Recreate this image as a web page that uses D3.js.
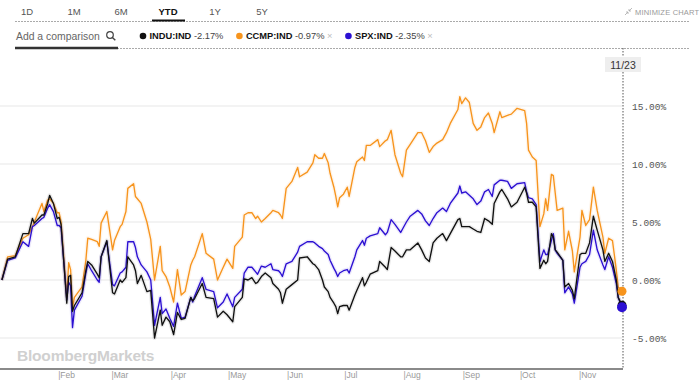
<!DOCTYPE html>
<html>
<head>
<meta charset="utf-8">
<script src="https://cdn.jsdelivr.net/npm/d3@7"></script>
<style>
  body { margin: 0; background: #fff; }
  svg { display: block; font-family: "Liberation Sans", Arial, sans-serif; }
</style>
</head>
<body>
<svg id="chart" width="700" height="390"></svg>
<script>
(function () {

    // YTD 2018, % change since start of year
    const dates = [
        "01-02","01-05","01-09","01-13","01-16","01-18","01-19","01-23","01-24","01-26","01-27","01-29","01-31",
        "02-01","02-02","02-05","02-06","02-07","02-08","02-09","02-13","02-15","02-16","02-18","02-21","02-22","02-23","02-26",
        "03-01","03-02","03-05","03-06","03-08","03-09","03-12","03-13","03-14","03-16","03-19","03-21","03-23","03-26","03-27","03-29","03-31",
        "04-02","04-04","04-06","04-08","04-11","04-12","04-13","04-17","04-19","04-23","04-25","04-28","04-30",
        "05-03","05-04","05-08","05-09","05-11","05-13","05-15","05-16","05-18","05-20","05-23","05-24","05-27","05-28","05-29","05-31",
        "06-03","06-06","06-07","06-11","06-14","06-15","06-17","06-19","06-20","06-22","06-23","06-25","06-26","06-27","06-28","06-30",
        "07-02","07-03","07-06","07-07","07-10","07-11","07-12","07-14","07-18","07-19","07-22","07-23","07-25","07-27","07-30","07-31",
        "08-02","08-04","08-08","08-10","08-12","08-14","08-16","08-18","08-21","08-23","08-25","08-29","08-30","08-31",
        "09-02","09-04","09-06","09-08","09-10","09-12","09-14","09-16","09-17","09-20","09-21","09-24","09-26","09-29",
        "10-03","10-04","10-05","10-07","10-09","10-11","10-13","10-14","10-15","10-17","10-18","10-19","10-20","10-23","10-24","10-26","10-28","10-29",
        "11-01","11-02","11-04","11-06","11-08","11-10","11-13","11-14","11-16","11-18","11-20","11-21","11-23"
    ];

    const indu = [
        0, 1.8, 2.0, 4.0, 4.0, 5.3, 4.9, 5.6, 5.6, 6.6, 7.3, 6.6, 5.3,
        5.4, 4.8, -2.0, 0.3, 0.4, -2.7, -2.2, -1.1, 0.8, 1.6, 1.3, 0.5, 0.2, 2.0, 3.4,
        -1.1, -1.2, 0.0, -0.2, 0.2, 2.0, 1.3, 0.8, -0.3, 0.4, -1.0, -0.9, -5.0, -2.6, -3.9, -3.2, -3.6,
        -4.7, -2.8, -3.4, -3.3, -1.5, -1.8, -1.6, -0.3, -1.5, -1.6, -3.2, -2.7, -3.0,
        -3.6, -2.3, -1.5, 0.1, 0.0, 0.2, -0.3, -0.2, 0.3, 0.6, 0.2, -0.3, -0.8, -1.1, -2.0, -0.8,
        -0.4, 0.0, 1.9, 2.0, 1.4, 1.3, 0.9, 0.0, -0.6, -1.0, -1.5, -2.0, -2.3, -2.9, -2.3, -2.2,
        -2.2, -2.6, -1.3, -0.9, 0.2, -0.5, -0.2, 0.5, 0.8, 1.6, 1.1, 0.9, 2.8, 2.5, 2.0, 2.0,
        2.6, 2.6, 3.2, 2.6, 1.9, 1.6, 3.2, 3.6, 4.0, 3.4, 4.0, 5.2, 5.3, 4.6,
        4.6, 4.6, 4.4, 4.2, 4.1, 5.3, 5.1, 4.8, 6.6, 7.6, 7.8, 7.0, 6.3, 6.7,
        8.0, 7.5, 6.7, 6.7, 6.3, 1.0, 1.7, 1.4, 1.6, 4.0, 3.7, 2.6, 2.4, 1.7, -0.6, -0.3, -0.9, -1.6,
        2.2, 2.3, 2.3, 3.2, 5.5, 4.3, 2.6, 1.6, 2.3, 1.6, 0.0, -1.5, -2.17
    ];

    const ccmp = [
        0, 2.0, 2.1, 3.6, 3.9, 4.6, 5.0, 6.6, 5.9, 6.9, 7.0, 6.6, 5.8,
        5.8, 5.0, -1.4, 1.5, 0.9, -2.4, -1.5, -0.6, 1.7, 3.6, 3.5, 3.3, 2.9, 4.9, 5.9,
        2.6, 3.4, 4.6, 4.8, 5.9, 7.9, 8.3, 7.2, 7.0, 6.6, 5.0, 3.5, 0.0, 2.9, 0.8, 0.3, -0.6,
        -1.9, 0.9, -1.3, -1.0, 1.3, 1.7, 2.0, 4.0, 2.3, 1.8, 0.0, 1.1, 1.8,
        1.0, 2.9, 3.7, 5.6, 5.8, 5.8, 5.3, 5.5, 5.0, 5.3, 5.8, 6.0, 5.8, 5.6, 5.3, 7.9,
        8.5, 9.7, 8.9, 9.3, 10.1, 10.8, 10.5, 10.5, 10.9, 10.1, 9.2, 8.0, 7.2, 6.3, 7.1, 7.4,
        8.0, 7.2, 9.7, 10.2, 10.6, 10.3, 11.6, 11.6, 12.1, 11.5, 12.0, 12.1, 12.9, 10.8, 9.2, 8.9,
        11.2, 11.7, 12.7, 12.7, 12.0, 11.0, 11.5, 11.8, 12.1, 12.7, 13.5, 14.7, 15.8, 15.2,
        15.7, 15.3, 13.5, 12.9, 13.2, 14.0, 14.4, 13.5, 12.7, 14.5, 14.0, 14.2, 14.3, 14.8,
        14.6, 13.5, 11.2, 10.6, 10.3, 4.6, 5.7, 7.0, 6.0, 9.1, 9.0, 7.5, 6.0, 6.2, 2.6, 4.2, 2.5, 0.7,
        3.7, 6.0, 4.7, 5.2, 8.0, 6.0, 3.7, 2.3, 3.6, 3.4, 0.9, -0.6, -0.97
    ];

    const spx = [
        0, 1.7, 1.9, 3.3, 2.9, 4.6, 4.7, 5.3, 5.4, 6.2, 6.5, 5.9, 4.7,
        4.7, 4.5, -1.7, -0.2, -0.5, -4.1, -2.6, -1.4, 0.6, 1.4, 0.8, 0.0, -0.2, 2.0, 3.3,
        -0.4, -0.5, 0.6, 0.7, 1.1, 3.3, 3.3, 2.8, 2.0, 1.3, 0.7, 0.0, -3.9, -1.5, -2.9, -2.5, -3.3,
        -4.0, -2.0, -3.3, -3.2, -1.5, -1.9, -1.4, 0.2, -0.8, -1.0, -2.4, -1.9, -1.2,
        -2.3, -1.5, -0.8, 0.6, 1.1, 1.1, 0.7, 0.5, 1.2, 1.1, 1.4, 0.9, 0.8, 0.6, 0.3, 1.4,
        1.6, 2.4, 2.9, 3.3, 3.3, 3.2, 2.9, 2.7, 2.5, 2.2, 1.7, 1.0, 0.7, 0.3, 0.6, 0.8,
        0.9, 0.6, 2.0, 2.6, 3.4, 3.0, 3.6, 3.8, 4.0, 4.5, 3.9, 4.1, 5.2, 4.8, 4.1, 4.4,
        5.0, 5.5, 6.0, 5.7, 5.1, 4.7, 5.3, 5.8, 6.2, 5.9, 6.6, 7.5, 8.1, 7.5,
        7.6, 7.3, 7.0, 6.5, 6.8, 7.6, 7.8, 7.2, 8.2, 8.6, 8.6, 8.5, 7.9, 8.3,
        8.4, 7.6, 7.1, 7.0, 6.5, 1.6, 2.6, 2.2, 2.2, 3.4, 4.0, 2.6, 2.3, 1.7, -1.1, -0.6, -1.2, -2.0,
        1.1, 1.4, 1.6, 2.2, 4.3, 2.6, 1.3, 0.9, 2.0, 1.1, -0.3, -1.5, -2.35
    ];

    const yTicks = [-5, 0, 5, 10, 15];
    const months = ["Feb", "Mar", "Apr", "May", "Jun", "Jul", "Aug", "Sep", "Oct", "Nov"];
    const ranges = ["1D", "1M", "6M", "YTD", "1Y", "5Y"];
    const seriesNames = ["INDU:IND", "CCMP:IND", "SPX:IND"];
    const seriesChanges = ["-2.17%", "-0.97%", "-2.35%"];
    const seriesColors = ["#111111", "#f7941d", "#2c10d2"];
    const lastLabel = "11/23";

    const svg = d3.select('#chart');
    const parse = d3.timeParse("%Y-%m-%d");
    const days = dates.map(d => parse("2018-" + d));
    const series = [indu, ccmp, spx];

    const x = d3.scaleTime()
        .domain([parse("2018-01-01"), parse("2018-11-23")])
        .range([0, 622]);
    const y = d3.scaleLinear()
        .domain([-5, 15])
        .range([338, 106]);
    const xEnd = x.range()[1];

    // --- top controls ---
    const nav = d3.scalePoint().domain(ranges).range([27, 262]);
    svg.selectAll('text.range')
        .data(ranges)
        .enter()
        .append('text')
        .attr('class', 'range')
        .attr('x', d => nav(d))
        .attr('y', 15)
        .attr('text-anchor', 'middle')
        .attr('font-size', 9.5)
        .attr('font-weight', d => d === "YTD" ? 'bold' : 'normal')
        .attr('fill', d => d === "YTD" ? '#111' : '#555')
        .text(d => d);

    svg.append('line')
        .attr('x1', 15).attr('x2', 690).attr('y1', 21.5).attr('y2', 21.5)
        .attr('stroke', '#aaa').attr('stroke-dasharray', '2,1');
    svg.append('line')
        .attr('x1', nav("YTD") - 16).attr('x2', nav("YTD") + 17).attr('y1', 20.5).attr('y2', 20.5)
        .attr('stroke', '#111').attr('stroke-width', 2);

    // minimize chart
    const mini = svg.append('g').attr('transform', 'translate(625,12)');
    mini.append('path').attr('d', 'M0,3 L3,0 M1,0 L3,0 L3,2 M7,-4 L4,-1 M4,-3 L4,-1 L6,-1')
        .attr('stroke', '#aaa').attr('fill', 'none').attr('stroke-width', 0.8);
    mini.append('text').attr('x', 10).attr('y', 3)
        .attr('font-size', 7.5).attr('fill', '#999').attr('letter-spacing', 0.2)
        .text('MINIMIZE CHART');

    // comparison box
    svg.append('text').attr('x', 16).attr('y', 40)
        .attr('font-size', 10.4).attr('fill', '#666')
        .text('Add a comparison');
    const mag = svg.append('g').attr('transform', 'translate(110,35)');
    mag.append('circle').attr('r', 3.3).attr('fill', 'none').attr('stroke', '#444').attr('stroke-width', 1.2);
    mag.append('line').attr('x1', 2.4).attr('y1', 2.4).attr('x2', 5.3).attr('y2', 5.3)
        .attr('stroke', '#444').attr('stroke-width', 1.4);
    svg.append('line')
        .attr('x1', 15).attr('x2', 690).attr('y1', 48.5).attr('y2', 48.5)
        .attr('stroke', '#aaa').attr('stroke-dasharray', '2,1');
    svg.append('line')
        .attr('x1', 15).attr('x2', 118).attr('y1', 48).attr('y2', 48)
        .attr('stroke', '#333').attr('stroke-width', 2.5);

    // legend
    let lx = 143;
    seriesNames.forEach((name, i) => {
        const g = svg.append('g').attr('transform', `translate(${lx},36)`);
        g.append('circle').attr('r', 3.3).attr('fill', seriesColors[i]);
        const t = g.append('text').attr('x', 6.5).attr('y', 3.4).attr('font-size', 9.3);
        t.append('tspan').attr('font-weight', 'bold').attr('fill', '#111').text(name);
        t.append('tspan').attr('fill', '#444').text(' ' + seriesChanges[i]);
        if (i > 0) t.append('tspan').attr('fill', '#bbb').text(' \u00d7');
        lx += 6.5 + t.node().getComputedTextLength() + 16;
    });

    // --- grid and y labels ---
    svg.selectAll('line.grid')
        .data(yTicks)
        .enter()
        .append('line')
        .attr('class', 'grid')
        .attr('x1', 0).attr('x2', xEnd)
        .attr('y1', d => y(d)).attr('y2', d => y(d))
        .attr('stroke', '#e8e8e8').attr('stroke-width', 1.2);

    const yAxis = svg.append('g')
        .attr('transform', `translate(${xEnd + 7},0)`)
        .call(d3.axisRight(y).tickValues(yTicks).tickSize(0).tickFormat(d => d.toFixed(2) + '%'));
    yAxis.select('.domain').remove();
    yAxis.selectAll('text')
        .attr('font-family', '"Liberation Mono", "DejaVu Sans Mono", monospace')
        .attr('font-size', 9.5)
        .attr('fill', '#555');

    // dotted cursor line and date box
    svg.append('line')
        .attr('x1', xEnd + 1).attr('x2', xEnd + 1).attr('y1', 48).attr('y2', 369)
        .attr('stroke', '#555').attr('stroke-dasharray', '1.5,1.5');
    svg.append('rect')
        .attr('x', xEnd - 17).attr('y', 57).attr('width', 36).attr('height', 15)
        .attr('fill', '#eeeeee');
    svg.append('text')
        .attr('x', xEnd + 1).attr('y', 68.5)
        .attr('text-anchor', 'middle')
        .attr('font-size', 10.5).attr('fill', '#333')
        .text(lastLabel);

    // watermark
    svg.append('text')
        .attr('x', 17).attr('y', 361)
        .attr('font-size', 15.5).attr('font-weight', 'bold').attr('fill', '#d0d0d0')
        .attr('letter-spacing', -0.2)
        .text('BloombergMarkets');

    // --- bottom axis ---
    svg.append('line')
        .attr('x1', 0).attr('x2', xEnd + 1).attr('y1', 369).attr('y2', 369)
        .attr('stroke', '#8a8a8a').attr('stroke-width', 2);

    const monthStarts = months.map((m, i) => parse(`2018-${String(i + 2).padStart(2, '0')}-01`));
    svg.selectAll('text.month')
        .data(monthStarts)
        .enter()
        .append('text')
        .attr('class', 'month')
        .attr('x', d => x(d) - 1)
        .attr('y', 378)
        .attr('font-size', 8.5)
        .attr('fill', '#999')
        .text((d, i) => '|' + months[i]);

    // --- lines ---
    const line = d3.line()
        .x((d, i) => x(days[i]))
        .y(d => y(d));

    const order = [1, 2, 0]; // orange, blue, black on top
    order.forEach(i => {
        svg.append('path')
            .datum(series[i])
            .attr('fill', 'none')
            .attr('stroke', seriesColors[i])
            .attr('stroke-opacity', 0.09)
            .attr('stroke-width', 4)
            .attr('stroke-linejoin', 'round')
            .attr('d', line);
        svg.append('path')
            .datum(series[i])
            .attr('fill', 'none')
            .attr('stroke', seriesColors[i])
            .attr('stroke-width', 1.35)
            .attr('stroke-linejoin', 'round')
            .attr('d', line);
    });

    // end markers
    [1, 0, 2].forEach(i => {
        const v = series[i][series[i].length - 1];
        svg.append('circle')
            .attr('cx', x(days[days.length - 1]))
            .attr('cy', y(v))
            .attr('r', i === 2 ? 5 : 4.5)
            .attr('fill', seriesColors[i]);
    });

})();
</script>
</body>
</html>
